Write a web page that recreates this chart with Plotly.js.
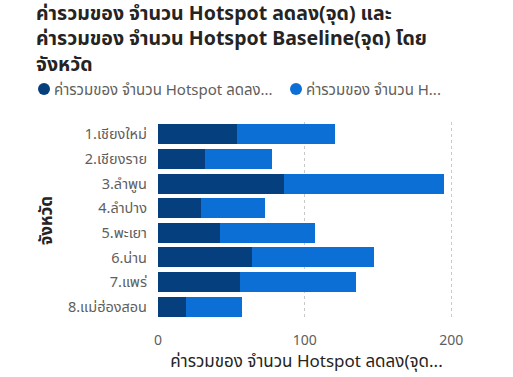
<!DOCTYPE html>
<html>
<head>
<meta charset="utf-8">
<script src="https://cdn.plot.ly/plotly-3.0.1.min.js"></script>
<style>html,body{margin:0;padding:0;background:#fff;}#chart{width:513px;height:377px;}</style>
</head>
<body>
<div id="chart"></div>
<script>
const provinces = ["1.เชียงใหม่","2.เชียงราย","3.ลำพูน","4.ลำปาง","5.พะเยา","6.น่าน","7.แพร่","8.แม่ฮ่องสอน"];
const hotspotReduced = [54, 32, 86, 29, 42, 64, 56, 19];
const hotspotBaseline = [67, 46, 109, 44, 65, 83, 79, 38];
const seriesNames = ["ค่ารวมของ จำนวน Hotspot ลดลง(จุด)", "ค่ารวมของ จำนวน Hotspot Baseline(จุด)"];
const legendLabels = ["ค่ารวมของ จำนวน Hotspot ลดลง...", "ค่ารวมของ จำนวน H..."];
const xTicks = [0, 100, 200];

const darkBlue = "#063f7d";
const lightBlue = "#0c6fd6";
const colors = [darkBlue, lightBlue];
const fontFam = "'Segoe UI', 'Noto Sans', 'Noto Sans Thai', 'DejaVu Sans', sans-serif";

const W = 513, H = 377;
const M = {l:158, r:58, t:122, b:58};
const pw = W - M.l - M.r, ph = H - M.t - M.b;
const px2x = p => (p - M.l) / pw;
const py2y = p => (H - M.b - p) / ph;

const data = [
  {type:"bar", orientation:"h", name:seriesNames[0], y:provinces, x:hotspotReduced,
   marker:{color:darkBlue}, showlegend:false},
  {type:"bar", orientation:"h", name:seriesNames[1], y:provinces, x:hotspotBaseline,
   marker:{color:lightBlue}, showlegend:false}
];

// legend drawn as circles + text
const legendCircleX = [44, 296];
const legendTextX = [53, 305];
const legendY = 89;
const shapes = legendCircleX.map((cx, i) => ({
  type:"circle", xref:"paper", yref:"paper",
  xsizemode:"pixel", ysizemode:"pixel",
  xanchor:px2x(cx), yanchor:py2y(legendY),
  x0:-6, x1:6, y0:-6, y1:6,
  fillcolor:colors[i], line:{width:0}
}));
const annotations = legendLabels.map((t, i) => ({
  text:t, xref:"paper", yref:"paper", x:px2x(legendTextX[i]), y:py2y(legendY),
  xanchor:"left", yanchor:"middle", showarrow:false, borderpad:0,
  font:{family:fontFam, size:15, color:"#605e5c"}
}));

const layout = {
  width:W, height:H,
  paper_bgcolor:"#ffffff", plot_bgcolor:"#ffffff",
  barmode:"stack", bargap:0.19,
  margin:M,
  showlegend:false,
  font:{family:fontFam, color:"#605e5c"},
  title:{
    text:"<b>ค่ารวมของ จำนวน Hotspot ลดลง(จุด) และ<br>ค่ารวมของ จำนวน Hotspot Baseline(จุด) โดย<br>จังหวัด</b>",
    font:{family:fontFam, size:19.5, color:"#252423"},
    xref:"container", yref:"container", x:36/W, xanchor:"left", y:1-20/H, yanchor:"top"
  },
  shapes:shapes,
  annotations:annotations,
  xaxis:{
    range:[0, 202.5], tickvals:xTicks, ticktext:xTicks.map(String),
    showgrid:true, gridcolor:"#c8c8c8", griddash:"dot", gridwidth:1,
    zeroline:false, showline:false, ticks:"", ticklabelstandoff:11,
    tickfont:{size:14, color:"#605e5c"},
    title:{text:"ค่ารวมของ จำนวน Hotspot ลดลง(จุด...", font:{family:fontFam, size:17, color:"#252423"}, standoff:2}
  },
  yaxis:{
    type:"category", autorange:"reversed", showgrid:false, zeroline:false, showline:false,
    ticks:"", ticklabelstandoff:10,
    tickfont:{size:14.5, color:"#605e5c"},
    title:{text:"<b>จังหวัด</b>", font:{family:fontFam, size:17, color:"#252423"}, standoff:10}
  }
};

Plotly.newPlot("chart", data, layout, {displayModeBar:false, staticPlot:true});
</script>
</body>
</html>
